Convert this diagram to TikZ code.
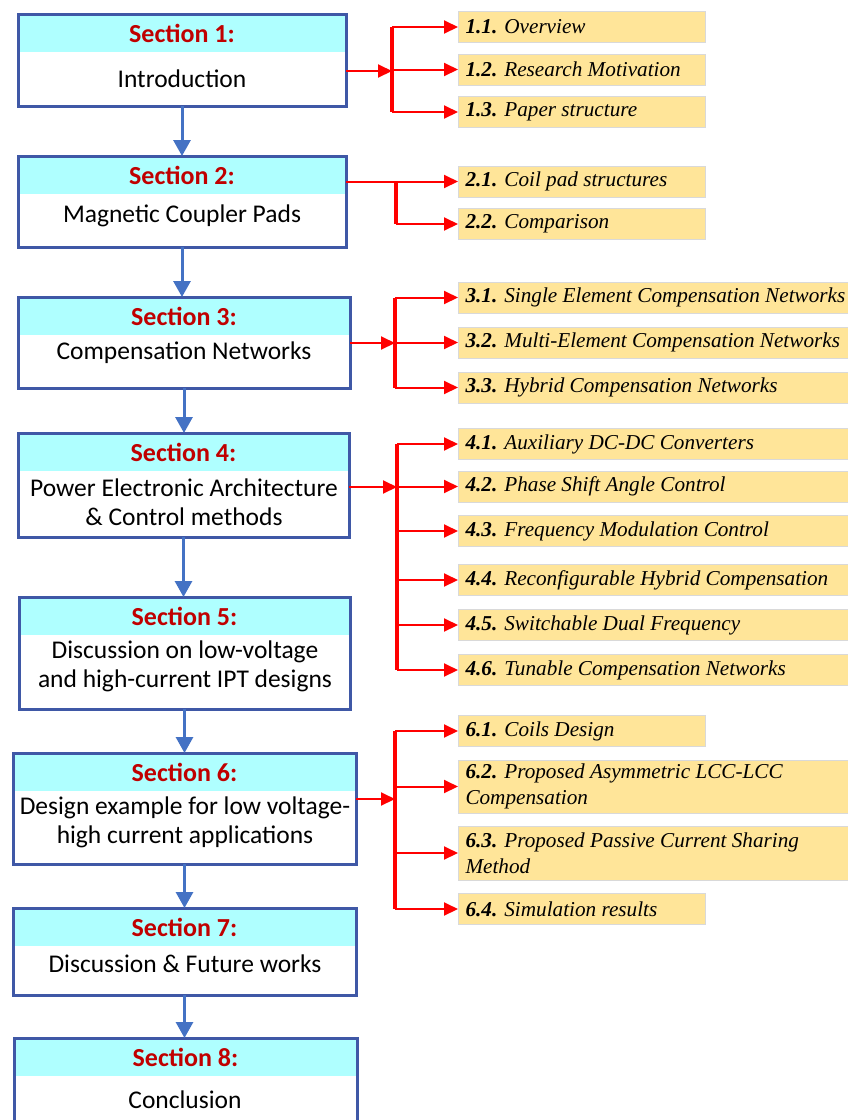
\documentclass[tikz,border=0pt]{standalone}
\usepackage{fontspec}
\setmainfont{Liberation Serif}
\setsansfont{Carlito}
\usepackage{xcolor}
\usetikzlibrary{arrows.meta,positioning}

\definecolor{secborder}{RGB}{63,88,166}
\definecolor{secarrow}{RGB}{68,114,196}
\definecolor{headcyan}{RGB}{175,255,255}
\definecolor{sectitle}{RGB}{192,0,0}
\definecolor{subfill}{RGB}{255,229,153}
\definecolor{subline}{RGB}{217,217,217}

\begin{document}
\begin{tikzpicture}[x=1pt, y=-1pt]
      \tikzset{secbox/.style = {draw=secborder, line width=3pt, inner sep=0pt, outer sep=0pt, anchor=north west}}
      \tikzset{sechead/.style = {fill=headcyan, inner sep=0pt, outer sep=0pt, anchor=north west, minimum height=38pt,
          text=sectitle, font=\sffamily\bfseries\fontsize{26}{30}\selectfont}}
      \tikzset{body/.style = {align=center, font=\sffamily\fontsize{25.5}{29}\selectfont}}
      \tikzset{subitem/.style = {draw=subline, line width=1pt, fill=subfill, anchor=west, inner xsep=7pt, inner ysep=0pt,
          minimum height=31pt, align=flush left, font=\itshape\fontsize{21.2}{26}\selectfont}}
      \tikzset{subshort/.style = {subitem, text width=233pt}}
      \tikzset{sublong/.style = {subitem, text width=406pt}}
      \tikzset{flow/.style = {draw=secarrow, line width=3pt, -{Triangle[length=16pt,width=17pt]}}}
      \tikzset{branch/.style = {draw=red, line width=2pt, -{Triangle[length=14pt,width=13pt]}}}
      \tikzset{bus/.style = {draw=red, line width=3.5pt}}

      \useasboundingbox (0,0) rectangle (848,1120);
      \clip (0,0) rectangle (848,1120);

      % section boxes
      \node[sechead, minimum width=328pt] (h1) at (18,14) {Section 1:};
      \node[secbox, minimum width=328pt, minimum height=92pt] (s1) at (18,14) {};
      \node[body] (t1) at (182,79) {Introduction};

      \node[sechead, minimum width=328pt] (h2) at (18,156) {Section 2:};
      \node[secbox, minimum width=328pt, minimum height=91pt] (s2) at (18,156) {};
      \node[body] (t2) at (182,216) {Magnetic Coupler Pads};

      \node[sechead, minimum width=332pt] (h3) at (18,297) {Section 3:};
      \node[secbox, minimum width=332pt, minimum height=91pt] (s3) at (18,297) {};
      \node[body] (t3) at (184,353) {Compensation Networks};

      \node[sechead, minimum width=331pt] (h4) at (18,433) {Section 4:};
      \node[secbox, minimum width=331pt, minimum height=104pt] (s4) at (18,433) {};
      \node[body] (t4) at (184,502) {Power Electronic Architecture\\\& Control methods};

      \node[sechead, minimum width=331pt] (h5) at (19,597) {Section 5:};
      \node[secbox, minimum width=331pt, minimum height=112pt] (s5) at (19,597) {};
      \node[body] (t5) at (185,666) {Discussion on low-voltage\\and high-current IPT designs};

      \node[sechead, minimum width=343pt] (h6) at (13,753) {Section 6:};
      \node[secbox, minimum width=343pt, minimum height=111pt] (s6) at (13,753) {};
      \node[body] (t6) at (185,822) {Design example for low voltage-\\high current applications};

      \node[sechead, minimum width=343pt] (h7) at (13,908) {Section 7:};
      \node[secbox, minimum width=343pt, minimum height=87pt] (s7) at (13,908) {};
      \node[body] (t7) at (185,964) {Discussion \& Future works};

      \node[sechead, minimum width=343pt] (h8) at (14,1038) {Section 8:};
      \node[secbox, minimum width=343pt, minimum height=95pt] (s8) at (14,1038) {};
      \node[body] (t8) at (185,1100) {Conclusion};

      % blue flow between sections
      \path[every edge/.style={flow}]
      (s1.south) edge (s1.south |- s2.north)
      (s2.south) edge (s2.south |- s3.north)
      (s3.south) edge (s3.south |- s4.north)
      (s4.south) edge (s4.south |- s5.north)
      (s5.south) edge (s5.south |- s6.north)
      (s6.south) edge (s6.south |- s7.north)
      (s7.south) edge (s7.south |- s8.north)
      ;

      % subsections
      \node[subshort] (i11) at (458,27) {\textbf{1.1.} Overview};
      \node[subshort] (i12) at (458,69.5) {\textbf{1.2.} Research Motivation};
      \node[subshort] (i13) at (458,112) {\textbf{1.3.} Paper structure};

      \node[subshort] (i21) at (458,181.5) {\textbf{2.1.} Coil pad structures};
      \node[subshort] (i22) at (458,224) {\textbf{2.2.} Comparison};

      \node[sublong] (i31) at (458,297.5) {\textbf{3.1.} Single Element Compensation Networks};
      \node[sublong] (i32) at (458,342.5) {\textbf{3.2.} Multi-Element Compensation Networks};
      \node[sublong] (i33) at (458,387.5) {\textbf{3.3.} Hybrid Compensation Networks};

      \node[sublong] (i41) at (458,444) {\textbf{4.1.} Auxiliary DC-DC Converters};
      \node[sublong] (i42) at (458,486.5) {\textbf{4.2.} Phase Shift Angle Control};
      \node[sublong] (i43) at (458,531) {\textbf{4.3.} Frequency Modulation Control};
      \node[sublong] (i44) at (458,580) {\textbf{4.4.} Reconfigurable Hybrid Compensation};
      \node[sublong] (i45) at (458,625) {\textbf{4.5.} Switchable Dual Frequency};
      \node[sublong] (i46) at (458,670) {\textbf{4.6.} Tunable Compensation Networks};

      \node[subshort] (i61) at (458,731) {\textbf{6.1.} Coils Design};
      \node[sublong, minimum height=53pt] (i62) at (458,786.5) {\textbf{6.2.} Proposed Asymmetric LCC-LCC\\Compensation};
      \node[sublong, minimum height=54pt] (i63) at (458,853) {\textbf{6.3.} Proposed Passive Current Sharing\\Method};
      \node[subshort] (i64) at (458,909) {\textbf{6.4.} Simulation results};

      % red branches
      \coordinate (b1) at (392,71);
      \coordinate (b2) at (396,183);
      \coordinate (b3) at (395,343);
      \coordinate (b4) at (397,487);
      \coordinate (b6) at (395,799);

      \draw[bus] (b1 |- i11) -- (b1 |- i13);
      \draw[bus] (b2 |- i21) -- (b2 |- i22);
      \draw[bus] (b3 |- i31) -- (b3 |- i33);
      \draw[bus] (b4 |- i41) -- (b4 |- i46);
      \draw[bus] (b6 |- i61) -- (b6 |- i64);

      \path[every edge/.style={branch}]
      (s1.east |- b1) edge (b1)
      (b1 |- i11) edge (i11.west)
      (b1 |- i12) edge (i12.west)
      (b1 |- i13) edge (i13.west)
      (s2.east |- i21) edge (i21.west)
      (b2 |- i22) edge (i22.west)
      (s3.east |- b3) edge (b3)
      (b3 |- i31) edge (i31.west)
      (b3 |- i32) edge (i32.west)
      (b3 |- i33) edge (i33.west)
      (s4.east |- b4) edge (b4)
      (b4 |- i41) edge (i41.west)
      (b4 |- i42) edge (i42.west)
      (b4 |- i43) edge (i43.west)
      (b4 |- i44) edge (i44.west)
      (b4 |- i45) edge (i45.west)
      (b4 |- i46) edge (i46.west)
      (s6.east |- b6) edge (b6)
      (b6 |- i61) edge (i61.west)
      (b6 |- i62) edge (i62.west)
      (b6 |- i63) edge (i63.west)
      (b6 |- i64) edge (i64.west)
      ;

\end{tikzpicture}
\end{document}
